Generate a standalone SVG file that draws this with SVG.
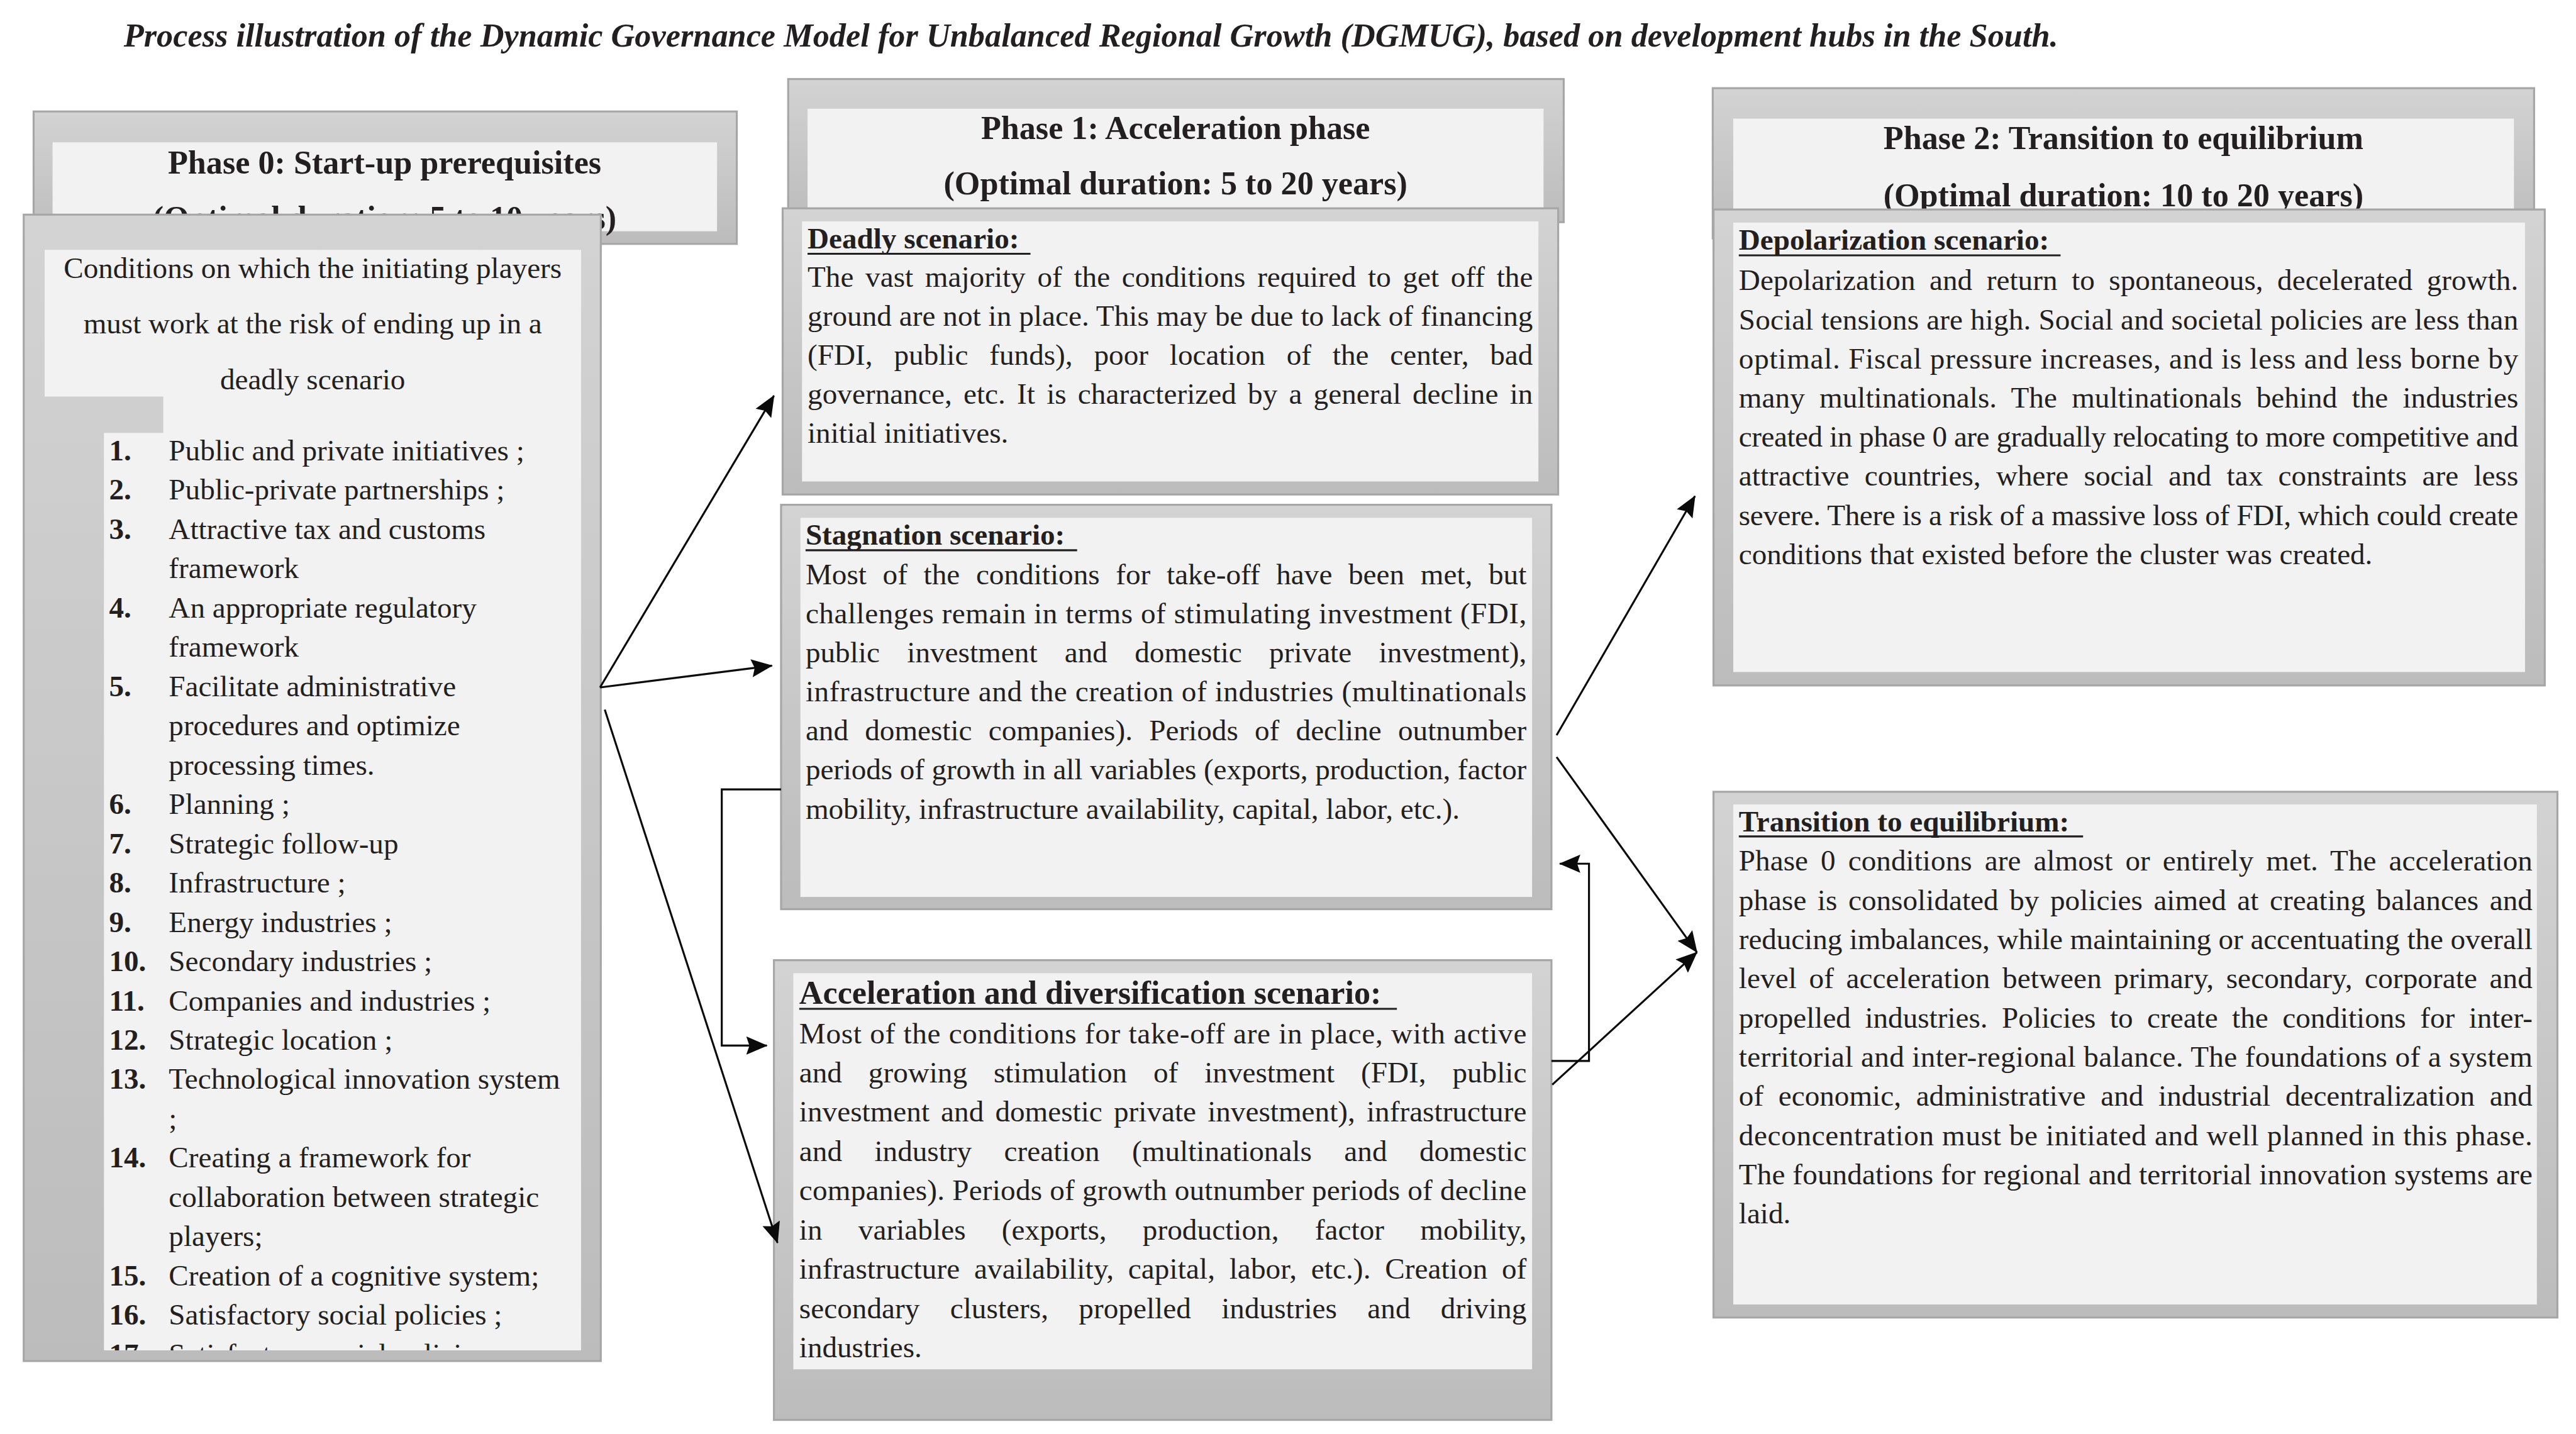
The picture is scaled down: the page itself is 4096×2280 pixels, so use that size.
<svg xmlns="http://www.w3.org/2000/svg" width="4096" height="2280" viewBox="0 0 4096 2280">
<defs>
<linearGradient id="g" x1="0" y1="0" x2="0" y2="1">
<stop offset="0" stop-color="#d3d3d3"/>
<stop offset="1" stop-color="#bcbcbc"/>
</linearGradient>
<marker id="ah" viewBox="0 0 54 46" refX="52" refY="23" markerWidth="54" markerHeight="46" markerUnits="userSpaceOnUse" orient="auto">
<path d="M0,0 L54,23 L0,46 L8,23 z" fill="#0a0a0a"/>
</marker>
<clipPath id="listclip"><rect x="263" y="1003" width="1207" height="2413"/></clipPath>
</defs>
<style>
.ob{fill:url(#g);stroke:#a6a6a6;stroke-width:5}
.ib{fill:#f2f2f2}
.t{font-family:"Liberation Serif","Times New Roman",serif;fill:#231f20}
.r{font-size:75px}
.b{font-size:75px;font-weight:bold}
.h{font-size:83px;font-weight:bold}
.c{text-anchor:middle}
.ul{stroke:#231f20;stroke-width:5}
.cn{fill:none;stroke:#0a0a0a;stroke-width:5}
</style>
<rect width="4096" height="2280" fill="#ffffff"/>
<g transform="scale(0.62851)">
<g id="title">
<text class="t h" x="313" y="117" font-style="italic" textLength="4894" lengthAdjust="spacingAndGlyphs">Process illustration of the Dynamic Governance Model for Unbalanced Regional Growth (DGMUG), based on development hubs in the South.</text>
</g>

<g id="node-phase0-header">
<rect class="ob" x="85" y="282" width="1779" height="335"/>
<rect class="ib" x="133" y="360" width="1681" height="225"/>
<text class="t h c" x="973" y="439">Phase 0: Start-up prerequisites</text>
<text class="t h c" x="973" y="579">(Optimal duration: 5 to 10 years)</text>
</g>

<g id="node-phase0-conditions">
<rect class="ob" x="60" y="543" width="1460" height="2900"/>
<path class="ib" d="M113,632 H1470 V3416 H263 V1095 H413 V1003 H113 Z"/>
<text class="t r c" x="791" y="704">Conditions on which the initiating players</text>
<text class="t r c" x="791" y="844">must work at the risk of ending up in a</text>
<text class="t r c" x="791" y="985">deadly scenario</text>
<g clip-path="url(#listclip)">
<text class="t b" x="276" y="1164.5">1.</text><text class="t r" x="427" y="1164.5">Public and private initiatives ;</text>
<text class="t b" x="276" y="1263.9">2.</text><text class="t r" x="427" y="1263.9">Public-private partnerships ;</text>
<text class="t b" x="276" y="1363.3">3.</text><text class="t r" x="427" y="1363.3">Attractive tax and customs</text>
<text class="t r" x="427" y="1462.7">framework</text>
<text class="t b" x="276" y="1562.1">4.</text><text class="t r" x="427" y="1562.1">An appropriate regulatory</text>
<text class="t r" x="427" y="1661.5">framework</text>
<text class="t b" x="276" y="1760.9">5.</text><text class="t r" x="427" y="1760.9">Facilitate administrative</text>
<text class="t r" x="427" y="1860.3">procedures and optimize</text>
<text class="t r" x="427" y="1959.7">processing times.</text>
<text class="t b" x="276" y="2059.1">6.</text><text class="t r" x="427" y="2059.1">Planning ;</text>
<text class="t b" x="276" y="2158.5">7.</text><text class="t r" x="427" y="2158.5">Strategic follow-up</text>
<text class="t b" x="276" y="2257.9">8.</text><text class="t r" x="427" y="2257.9">Infrastructure ;</text>
<text class="t b" x="276" y="2357.3">9.</text><text class="t r" x="427" y="2357.3">Energy industries ;</text>
<text class="t b" x="276" y="2456.7">10.</text><text class="t r" x="427" y="2456.7">Secondary industries ;</text>
<text class="t b" x="276" y="2556.1">11.</text><text class="t r" x="427" y="2556.1">Companies and industries ;</text>
<text class="t b" x="276" y="2655.5">12.</text><text class="t r" x="427" y="2655.5">Strategic location ;</text>
<text class="t b" x="276" y="2754.9">13.</text><text class="t r" x="427" y="2754.9">Technological innovation system</text>
<text class="t r" x="427" y="2854.3">;</text>
<text class="t b" x="276" y="2953.7">14.</text><text class="t r" x="427" y="2953.7">Creating a framework for</text>
<text class="t r" x="427" y="3053.1">collaboration between strategic</text>
<text class="t r" x="427" y="3152.5">players;</text>
<text class="t b" x="276" y="3251.9">15.</text><text class="t r" x="427" y="3251.9">Creation of a cognitive system;</text>
<text class="t b" x="276" y="3351.3">16.</text><text class="t r" x="427" y="3351.3">Satisfactory social policies ;</text>
<text class="t b" x="276" y="3450.7">17.</text><text class="t r" x="427" y="3450.7">Satisfactory social policies</text>
</g>
</g>

<g id="node-phase1-header">
<rect class="ob" x="1994" y="200" width="1962" height="362"/>
<rect class="ib" x="2043" y="275" width="1862" height="255"/>
<text class="t h c" x="2974" y="352">Phase 1: Acceleration phase</text>
<text class="t h c" x="2974" y="492">(Optimal duration: 5 to 20 years)</text>
</g>

<g id="node-deadly">
<rect class="ob" x="1980" y="527" width="1962" height="724"/>
<rect class="ib" x="2029" y="560" width="1863" height="658"/>
<text class="t b" x="2043" y="629">Deadly scenario:</text>
<line class="ul" x1="2043" y1="642" x2="2607" y2="642"/>
<text class="t r" x="2043" y="726" textLength="1835" lengthAdjust="spacing" style="word-spacing:11px">The vast majority of the conditions required to get off the</text>
<text class="t r" x="2043" y="824.5" textLength="1835" lengthAdjust="spacing">ground are not in place. This may be due to lack of financing</text>
<text class="t r" x="2043" y="923" textLength="1835" lengthAdjust="spacing" style="word-spacing:35px">(FDI, public funds), poor location of the center, bad</text>
<text class="t r" x="2043" y="1021.5" textLength="1835" lengthAdjust="spacing" style="word-spacing:10px">governance, etc. It is characterized by a general decline in</text>
<text class="t r" x="2043" y="1120">initial initiatives.</text>
</g>

<g id="node-stagnation">
<rect class="ob" x="1976" y="1277" width="1949" height="1023"/>
<rect class="ib" x="2025" y="1310" width="1851" height="959"/>
<text class="t b" x="2038" y="1378">Stagnation scenario:</text>
<line class="ul" x1="2038" y1="1392" x2="2725" y2="1392"/>
<text class="t r" x="2038" y="1478" textLength="1824" lengthAdjust="spacing" style="word-spacing:22px">Most of the conditions for take-off have been met, but</text>
<text class="t r" x="2038" y="1576.8" textLength="1824" lengthAdjust="spacing">challenges remain in terms of stimulating investment (FDI,</text>
<text class="t r" x="2038" y="1675.6" textLength="1824" lengthAdjust="spacing" style="word-spacing:50px">public investment and domestic private investment),</text>
<text class="t r" x="2038" y="1774.4" textLength="1824" lengthAdjust="spacing">infrastructure and the creation of industries (multinationals</text>
<text class="t r" x="2038" y="1873.2" textLength="1824" lengthAdjust="spacing" style="word-spacing:23px">and domestic companies). Periods of decline outnumber</text>
<text class="t r" x="2038" y="1972" textLength="1824" lengthAdjust="spacing">periods of growth in all variables (exports, production, factor</text>
<text class="t r" x="2038" y="2070.8">mobility, infrastructure availability, capital, labor, etc.).</text>
</g>

<g id="node-acceleration">
<rect class="ob" x="1958" y="2429" width="1967" height="1163"/>
<rect class="ib" x="2007" y="2462" width="1869" height="1002"/>
<text class="t h" x="2022" y="2539">Acceleration and diversification scenario:</text>
<line class="ul" x1="2022" y1="2552" x2="3534" y2="2552"/>
<text class="t r" x="2022" y="2639" textLength="1840" lengthAdjust="spacing">Most of the conditions for take-off are in place, with active</text>
<text class="t r" x="2022" y="2738.3" textLength="1840" lengthAdjust="spacing" style="word-spacing:48px">and growing stimulation of investment (FDI, public</text>
<text class="t r" x="2022" y="2837.6" textLength="1840" lengthAdjust="spacing" style="word-spacing:10px">investment and domestic private investment), infrastructure</text>
<text class="t r" x="2022" y="2936.9" textLength="1840" lengthAdjust="spacing" style="word-spacing:63px">and industry creation (multinationals and domestic</text>
<text class="t r" x="2022" y="3036.2" textLength="1840" lengthAdjust="spacing">companies). Periods of growth outnumber periods of decline</text>
<text class="t r" x="2022" y="3135.5" textLength="1840" lengthAdjust="spacing" style="word-spacing:72px">in variables (exports, production, factor mobility,</text>
<text class="t r" x="2022" y="3234.8" textLength="1840" lengthAdjust="spacing" style="word-spacing:17px">infrastructure availability, capital, labor, etc.). Creation of</text>
<text class="t r" x="2022" y="3334.1" textLength="1840" lengthAdjust="spacing" style="word-spacing:58px">secondary clusters, propelled industries and driving</text>
<text class="t r" x="2022" y="3433.4">industries.</text>
</g>

<g id="node-phase2-header">
<rect class="ob" x="4333" y="223" width="2078" height="380"/>
<rect class="ib" x="4385" y="300" width="1975" height="260"/>
<text class="t h c" x="5372" y="377">Phase 2: Transition to equilibrium</text>
<text class="t h c" x="5372" y="522">(Optimal duration: 10 to 20 years)</text>
</g>

<g id="node-depolarization">
<rect class="ob" x="4335" y="530" width="2103" height="1204"/>
<rect class="ib" x="4385" y="563" width="2003" height="1137"/>
<text class="t b" x="4399" y="632">Depolarization scenario:</text>
<line class="ul" x1="4399" y1="646" x2="5213" y2="646"/>
<text class="t r" x="4399" y="734" textLength="1972" lengthAdjust="spacing" style="word-spacing:17px">Depolarization and return to spontaneous, decelerated growth.</text>
<text class="t r" x="4399" y="833" textLength="1972" lengthAdjust="spacing">Social tensions are high. Social and societal policies are less than</text>
<text class="t r" x="4399" y="932" textLength="1972" lengthAdjust="spacing">optimal. Fiscal pressure increases, and is less and less borne by</text>
<text class="t r" x="4399" y="1031" textLength="1972" lengthAdjust="spacing" style="word-spacing:18px">many multinationals. The multinationals behind the industries</text>
<text class="t r" x="4399" y="1130" textLength="1972" lengthAdjust="spacing">created in phase 0 are gradually relocating to more competitive and</text>
<text class="t r" x="4399" y="1229" textLength="1972" lengthAdjust="spacing" style="word-spacing:20px">attractive countries, where social and tax constraints are less</text>
<text class="t r" x="4399" y="1328" textLength="1972" lengthAdjust="spacing">severe. There is a risk of a massive loss of FDI, which could create</text>
<text class="t r" x="4399" y="1427">conditions that existed before the cluster was created.</text>
</g>

<g id="node-transition">
<rect class="ob" x="4335" y="2003" width="2135" height="1330"/>
<rect class="ib" x="4385" y="2035" width="2033" height="1265"/>
<text class="t b" x="4399" y="2103">Transition to equilibrium:</text>
<line class="ul" x1="4399" y1="2116" x2="5270" y2="2116"/>
<text class="t r" x="4399" y="2202.4" textLength="2008" lengthAdjust="spacing" style="word-spacing:13px">Phase 0 conditions are almost or entirely met. The acceleration</text>
<text class="t r" x="4399" y="2301.6" textLength="2008" lengthAdjust="spacing" style="word-spacing:9px">phase is consolidated by policies aimed at creating balances and</text>
<text class="t r" x="4399" y="2400.8" textLength="2008" lengthAdjust="spacing">reducing imbalances, while maintaining or accentuating the overall</text>
<text class="t r" x="4399" y="2500" textLength="2008" lengthAdjust="spacing" style="word-spacing:12px">level of acceleration between primary, secondary, corporate and</text>
<text class="t r" x="4399" y="2599.2" textLength="2008" lengthAdjust="spacing" style="word-spacing:17px">propelled industries. Policies to create the conditions for inter-</text>
<text class="t r" x="4399" y="2698.4" textLength="2008" lengthAdjust="spacing">territorial and inter-regional balance. The foundations of a system</text>
<text class="t r" x="4399" y="2797.6" textLength="2008" lengthAdjust="spacing" style="word-spacing:19px">of economic, administrative and industrial decentralization and</text>
<text class="t r" x="4399" y="2896.8" textLength="2008" lengthAdjust="spacing">deconcentration must be initiated and well planned in this phase.</text>
<text class="t r" x="4399" y="2996" textLength="2008" lengthAdjust="spacing">The foundations for regional and territorial innovation systems are</text>
<text class="t r" x="4399" y="3095.2">laid.</text>
</g>

<g id="connectors">
<path class="cn" d="M1518,1739 L1958,1001" marker-end="url(#ah)"/>
<path class="cn" d="M1518,1739 L1953,1684" marker-end="url(#ah)"/>
<path class="cn" d="M1530,1795 L1967,3144" marker-end="url(#ah)"/>
<path class="cn" d="M1976,1997 L1826,1997 L1826,2645 L1940,2645" marker-end="url(#ah)"/>
<path class="cn" d="M3925,2684 L4020,2684 L4020,2185 L3946,2185" marker-end="url(#ah)"/>
<path class="cn" d="M3938,1860 L4288,1255" marker-end="url(#ah)"/>
<path class="cn" d="M3938,1915 L4293,2409" marker-end="url(#ah)"/>
<path class="cn" d="M3927,2744 L4293,2409" marker-end="url(#ah)"/>
</g>
</g>
</svg>
